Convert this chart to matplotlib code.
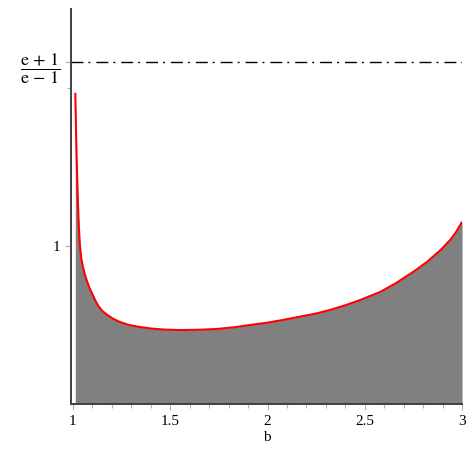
import numpy as np
import matplotlib
matplotlib.use('Agg')
import matplotlib.pyplot as plt
from matplotlib.ticker import FixedLocator, MultipleLocator

plt.rcParams['font.family'] = ['Liberation Serif', 'DejaVu Serif']
plt.rcParams['mathtext.fontset'] = 'stix'

# values
b = [1.012, 1.015, 1.018, 1.022, 1.026, 1.030, 1.036, 1.043, 1.050, 1.060,
     1.070, 1.085, 1.100, 1.115, 1.130, 1.150, 1.175, 1.206, 1.24, 1.28,
     1.33, 1.40, 1.47, 1.55, 1.65, 1.74, 1.83, 1.91, 2.00, 2.08, 2.15, 2.24,
     2.32, 2.40, 2.48, 2.58, 2.66, 2.75, 2.82, 2.89, 2.94, 2.97, 3.0]
f = [1.97, 1.78, 1.60, 1.42, 1.26, 1.13, 1.00, 0.92, 0.875, 0.825,
     0.785, 0.735, 0.695, 0.655, 0.622, 0.59, 0.565, 0.54, 0.52, 0.503,
     0.49, 0.478, 0.471, 0.468, 0.47, 0.475, 0.486, 0.50, 0.515, 0.532, 0.549, 0.57,
     0.595, 0.625, 0.66, 0.71, 0.765, 0.837, 0.90, 0.975, 1.04, 1.09, 1.154]
asym = (np.e + 1) / (np.e - 1)

yticks = [1, asym]
yticklabels = ['1', r'$\dfrac{\mathrm{e}\,+\,1}{\mathrm{e}\,-\,1}$']
xticks = [1, 1.5, 2, 2.5, 3]

fig = plt.figure(figsize=(4.74, 4.74), dpi=100)
ax = fig.add_axes([0.1498, 0.1477, 0.825, 0.833])

ax.fill_between(b, f, 0, color='#808080', lw=0)
ax.plot(b, f, color='red', lw=1.5, solid_capstyle='butt', solid_joinstyle='round')
ax.axhline(asym, color='black', lw=1.0, dashes=(8.6, 3.6, 1.4, 4.3))

ax.set_xlim(0.99, 3.0)
ax.set_ylim(0, 2.5)

for s in ['top', 'right']:
    ax.spines[s].set_visible(False)
for s in ['left', 'bottom']:
    ax.spines[s].set_color('#404040')
    ax.spines[s].set_linewidth(1.4)

ax.set_xticks(xticks)
ax.set_xticklabels(['1', '1.5', '2', '2.5', '3'])
ax.xaxis.set_minor_locator(MultipleLocator(0.1))
ax.set_yticks(yticks)
ax.set_yticklabels(yticklabels)
ax.yaxis.set_minor_locator(FixedLocator([2]))

ax.tick_params(which='both', direction='out', color='#b0b0b0', width=0.8,
               labelsize=11)
ax.tick_params(which='major', length=4, pad=4)
ax.tick_params(which='minor', length=3)
ax.tick_params(axis='y', pad=3.5)
ax.get_yticklabels()[1].set_fontsize(13)

ax.set_xlabel('b', fontsize=11, labelpad=2)

fig.savefig('out.png', dpi=100)
